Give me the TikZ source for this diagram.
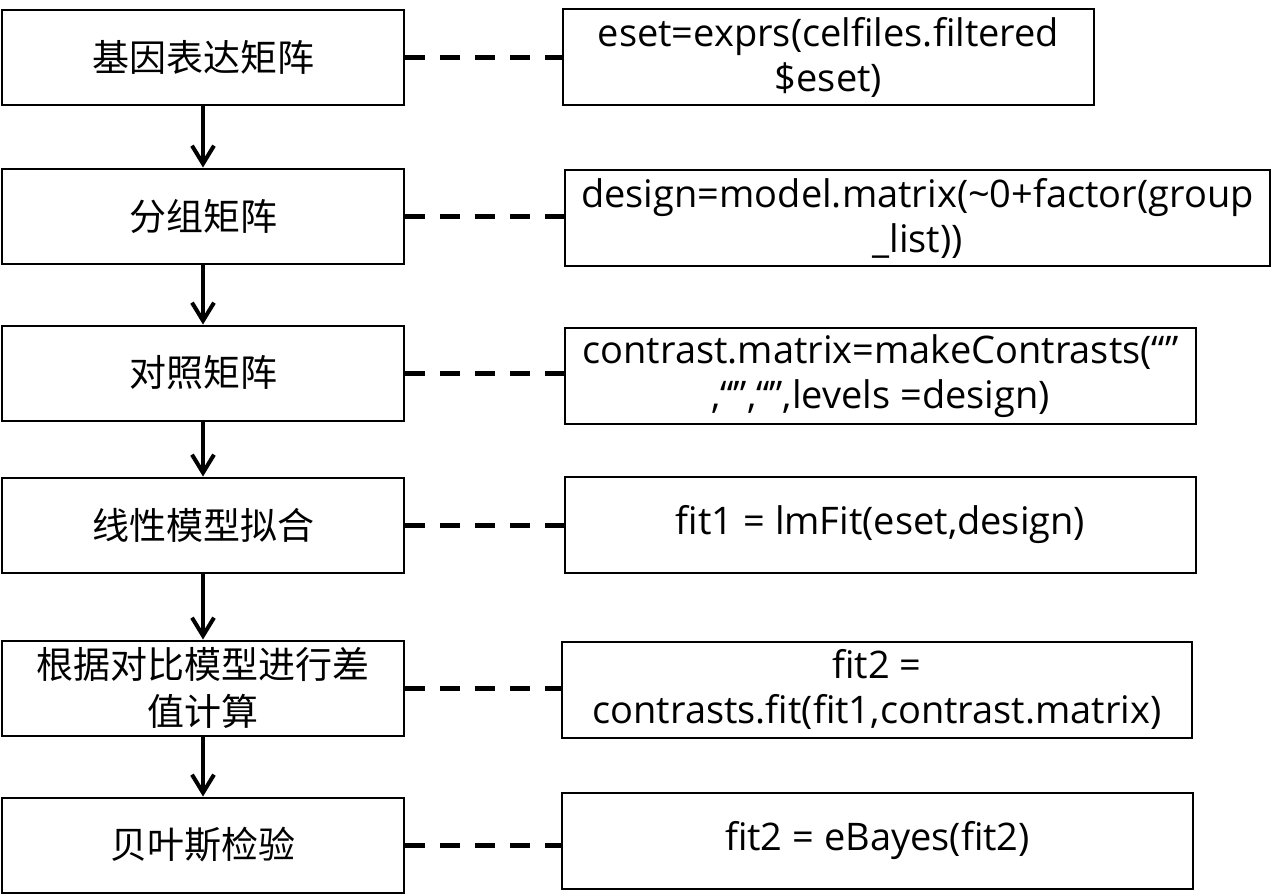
\documentclass[tikz,border=0pt]{standalone}
\usepackage{fontspec}
\setmainfont{Open Sans}
\newfontfamily\cjk{Noto Sans CJK SC}
\usetikzlibrary{arrows.meta,positioning}

\begin{document}
\begin{tikzpicture}[
  x=0.5pt, y=-0.5pt,
  stagebox/.style={draw, line width=1pt, align=center, inner sep=0pt, minimum width=201pt, minimum height=47.5pt, font=\cjk\fontsize{18.5}{23.5}\selectfont},
  codebox/.style={draw, line width=1pt, align=center, inner sep=0pt, minimum height=48pt, font=\fontsize{19}{22.5}\selectfont},
  arrow/.style={-{Straight Barb[length=9pt,width=11pt]}, line width=2pt},
  link/.style={line width=2.5pt, dash pattern=on 10pt off 7.5pt}
]
\useasboundingbox (0,0) rectangle (1274,895);

% left column: analysis steps
\node[stagebox] (s1) at (203,57.5) {基因表达矩阵};
\node[stagebox] (s2) at (203,216) {分组矩阵};
\node[stagebox] (s3) at (203,373) {对照矩阵};
\node[stagebox] (s4) at (203,525) {线性模型拟合};
\node[stagebox] (s5) at (203,688) {根据对比模型进行差\\值计算};
\node[stagebox] (s6) at (203,845) {贝叶斯检验};

% right column: limma code
\node[codebox, minimum width=265.5pt] (c1) at (828.5,57) {eset=exprs(celfiles.filtered\\\$eset)};
\node[codebox, minimum width=352.5pt] (c2) at (917.5,218) {design=model.matrix(\textasciitilde0+factor(group\\\_list))};
\node[codebox, minimum width=315.5pt] (c3) at (880.5,376) {contrast.matrix=makeContrasts(“”\\,“”,“”,levels =design)};
\node[codebox, minimum width=315.5pt] (c4) at (880.5,525) {fit1 = lmFit(eset,design)};
\node[codebox, minimum width=315pt] (c5) at (877,689.5) {fit2 =\\contrasts.fit(fit1,contrast.matrix)};
\node[codebox, minimum width=315.5pt] (c6) at (877.5,841) {fit2 = eBayes(fit2)};

\foreach \a/\b in {s1/s2,s2/s3,s3/s4,s4/s5,s5/s6}
  \draw[arrow] (\a.south) -- (\b.north);

\foreach \i in {1,...,6}
  \draw[link] (s\i.east) -- (s\i.east -| c\i.west);

\end{tikzpicture}
\end{document}
